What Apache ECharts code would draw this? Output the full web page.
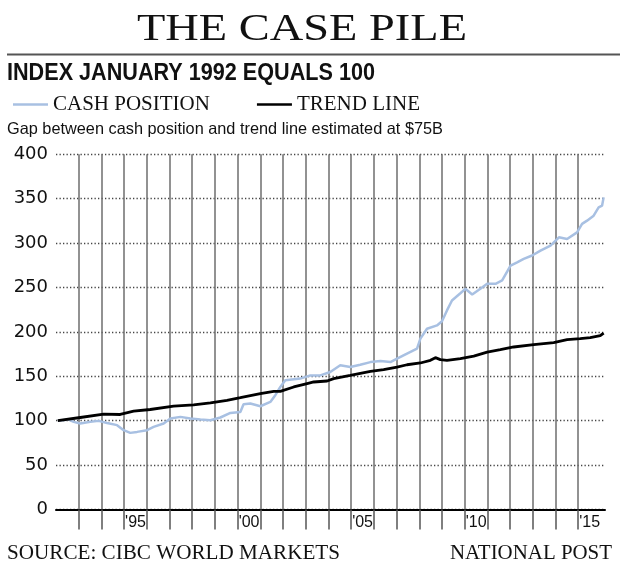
<!DOCTYPE html>
<html>
<head>
<meta charset="utf-8">
<title>The Case Pile</title>
<script src="https://cdn.jsdelivr.net/npm/echarts@6.0.0/dist/echarts.min.js"></script>
<style>
  html, body { margin: 0; padding: 0; background: #fff; }
  #chart { width: 620px; height: 574px; }
</style>
</head>
<body>
<div id="chart"></div>
<script>
// index, January 1992 = 100. x values are decimal years
const cashYears = [1992.08, 1992.56, 1992.78, 1993.07, 1993.51, 1993.88, 1994.25, 1994.69, 1994.98, 1995.27,
  1995.57, 1996.01, 1996.30, 1996.74, 1997.04, 1997.48, 1997.92, 1998.36, 1998.80, 1999.24,
  1999.68, 2000.12, 2000.26, 2000.56, 2001.00, 2001.44, 2001.66, 2001.88, 2002.10, 2002.76,
  2003.20, 2003.64, 2004.08, 2004.52, 2004.96, 2005.40, 2005.85, 2006.29, 2006.73, 2007.02,
  2007.46, 2007.90, 2008.05, 2008.34, 2008.78, 2009.00, 2009.22, 2009.44, 2009.81, 2010.03,
  2010.33, 2010.69, 2010.99, 2011.36, 2011.65, 2012.02, 2012.31, 2012.60, 2012.97, 2013.34,
  2013.78, 2014.15, 2014.51, 2014.95, 2015.17, 2015.39, 2015.68, 2015.90, 2016.05, 2016.12];
const cashValues = [100, 101.3, 98.7, 96.8, 98.7, 99.8, 97.5, 95, 89.3, 86.3,
  87.4, 89.3, 93, 96.8, 102.5, 104.3, 102.5, 101.3, 100.6, 103.6,
  108.8, 109.9, 118.5, 119.3, 116.3, 121.1, 128.7, 138, 145.5, 147.4,
  151, 151, 154.8, 162.4, 160.4, 163.1, 166, 167.2, 166, 169.9,
  175.5, 181.1, 192.4, 203.6, 207.3, 212, 224.2, 235.4, 243.6, 248.5,
  242.1, 248.5, 254.2, 254.2, 257.9, 274.7, 278.4, 282.2, 286, 291.6,
  297.2, 306.5, 304.7, 312.1, 321.6, 325.3, 330.9, 340.2, 342.1, 351.5];

const trendYears = [1992.08, 1993.07, 1994.10, 1994.83, 1995.42, 1996.15, 1997.18, 1998.06, 1998.80, 1999.53,
  2000.12, 2001.00, 2001.59, 2001.88, 2002.47, 2003.06, 2003.35, 2003.94, 2004.23, 2004.96,
  2005.85, 2006.43, 2007.02, 2007.46, 2008.05, 2008.49, 2008.71, 2008.93, 2009.22, 2009.81,
  2010.40, 2010.99, 2011.57, 2012.16, 2013.04, 2013.92, 2014.51, 2015.09, 2015.53, 2015.97, 2016.12];
const trendValues = [100, 103.6, 107.3, 107, 110.7, 112.6, 116.3, 117.8, 120, 123,
  126, 130.6, 133, 133, 138, 141.8, 143.6, 144.7, 147.4, 151,
  155.6, 157.5, 160.4, 163, 165, 168, 171, 168.8, 168, 170,
  172.8, 177.3, 180, 183, 185.6, 187.9, 191.2, 192.4, 193.5, 195.7, 198.7];

const yearTicks = [1993, 1994, 1995, 1996, 1997, 1998, 1999, 2000, 2001, 2002, 2003, 2004,
  2005, 2006, 2007, 2008, 2009, 2010, 2011, 2012, 2013, 2014, 2015];
const yearLabels = [1995, 2000, 2005, 2010, 2015];

const serif = '"Liberation Serif", "Times New Roman", serif';
const sans = '"Liberation Sans", Arial, sans-serif';

const pairs = (xs, ys) => xs.map((x, i) => [x, ys[i]]);

// text squeezed/stretched to the width it takes in the print layout
const measure = document.createElement('canvas').getContext('2d');
function fitText(str, font, left, right, cy) {
  measure.font = font;
  const w = measure.measureText(str).width;
  return {
    type: 'text', x: left, y: cy, scaleX: (right - left) / w, silent: true,
    style: { text: str, font: font, fill: '#111', align: 'left', verticalAlign: 'middle',
      textAlign: 'left', textVerticalAlign: 'middle' }
  };
}

const chart = echarts.init(document.getElementById('chart'));

const option = {
  animation: false,
  backgroundColor: '#fff',
  grid: { left: 56, right: 15, top: 154.3, bottom: 64.5, outerBoundsMode: 'none' },
  legend: {
    left: 8, top: 89,
    icon: 'rect',
    itemWidth: 35, itemHeight: 2.6, itemGap: 47,
    textStyle: { fontFamily: serif, fontSize: 21, color: '#111', lineHeight: 20 },
    data: ['CASH POSITION', 'TREND LINE']
  },
  xAxis: {
    type: 'value',
    min: 1992,
    max: 2016.18,
    axisLine: { show: true, onZero: false, lineStyle: { color: '#000', width: 2 } },
    axisTick: { show: true, customValues: yearTicks, length: 20, lineStyle: { color: '#555', width: 1.5 } },
    axisLabel: {
      customValues: yearLabels,
      formatter: v => "'" + String(v).slice(2),
      align: 'left', margin: 5, padding: [0, 0, 0, 1],
      fontFamily: sans, fontSize: 16, color: '#111'
    },
    splitLine: { show: true, lineStyle: { color: '#6e6e6e', width: 1.5 } }
  },
  yAxis: {
    type: 'value',
    min: 0,
    max: 400,
    interval: 50,
    axisLine: { show: false },
    axisTick: { show: false },
    axisLabel: { margin: 8, fontFamily: '"DejaVu Sans", sans-serif', fontSize: 18, color: '#111' },
    splitLine: { lineStyle: { color: '#444', width: 1.3, type: [1.3, 2.2] } }
  },
  series: [
    {
      name: 'CASH POSITION',
      type: 'line',
      symbol: 'none',
      data: pairs(cashYears, cashValues),
      lineStyle: { color: '#a8c0e2', width: 2.5 },
      itemStyle: { color: '#a8c0e2' }
    },
    {
      name: 'TREND LINE',
      type: 'line',
      symbol: 'none',
      data: pairs(trendYears, trendValues),
      lineStyle: { color: '#000', width: 2.8 },
      itemStyle: { color: '#000' }
    }
  ],
  graphic: [
    fitText('THE CASE PILE', '37px ' + serif, 137, 467, 30.5),
    { type: 'line', silent: true, shape: { x1: 7, y1: 54.5, x2: 620, y2: 54.5 }, style: { stroke: '#555', lineWidth: 2 } },
    fitText('INDEX JANUARY 1992 EQUALS 100', 'bold 24px ' + sans, 7, 375, 73.5),
    fitText('Gap between cash position and trend line estimated at $75B', '16.5px ' + sans, 7, 443, 129),
    fitText('SOURCE: CIBC WORLD MARKETS', '20px ' + serif, 7, 340, 553.5),
    fitText('NATIONAL POST', '20px ' + serif, 450, 612, 553.5)
  ]
};

chart.setOption(option);
</script>
</body>
</html>
